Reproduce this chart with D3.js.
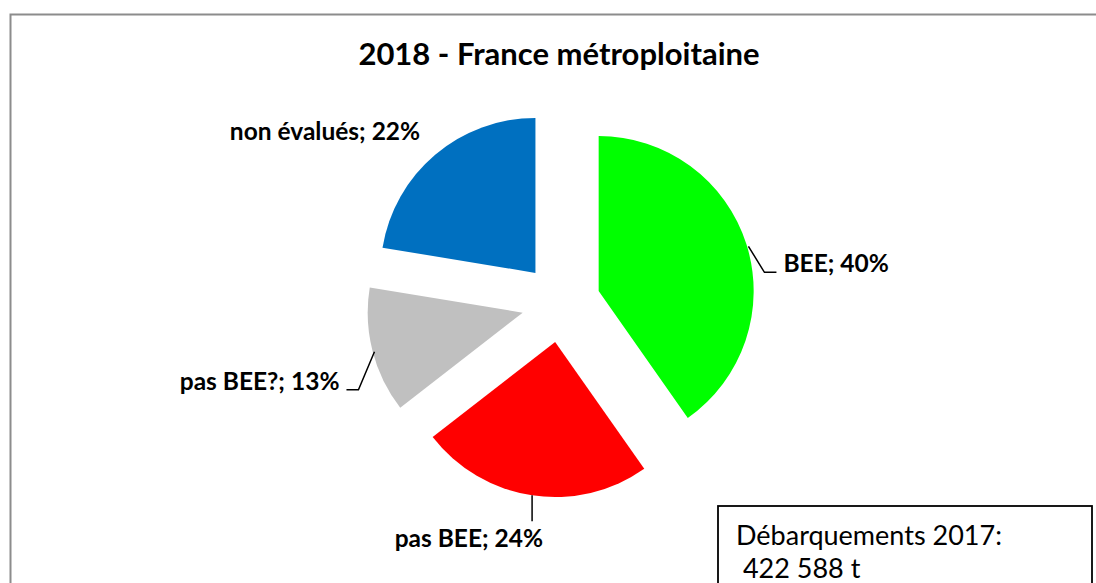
<!DOCTYPE html>
<html>
<head>
<meta charset="utf-8">
<script src="https://cdn.jsdelivr.net/npm/d3@7"></script>
<style>
  body { margin: 0; background: #fff; }
  text { font-family: Lato, "Open Sans", sans-serif; }
</style>
</head>
<body>
<svg id="drawing_region"></svg>
<script>
const title = "2018 - France métroploitaine";
const categories = ["BEE", "pas BEE", "pas BEE?", "non évalués"];
const shares = [40.25, 24.25, 13.1, 22.4];
const colors = ["#00ff00", "#ff0000", "#c0c0c0", "#0070c0"];
const noteLines = ["Débarquements 2017:", " 422 588 t"];

// label placement relative to the point on the outer arc (leader points, then text anchor)
const labelLayout = [
    { leader: [[2, 2], [18, 28], [30, 28]], text: [37, 28], anchor: "start" },
    { leader: [[0, 0], [0, 26]], text: [11, 52], anchor: "end" },
    { leader: [[2, 1], [-14, 39], [-26, 39]], text: [-33, 39], anchor: "end" },
    { leader: [], text: [-15, -15], anchor: "end" }
];

class PieChart {

    constructor( config, data ) {
        this.config = {
            parent: config.parent,
            width: config.width || 256,
            height: config.height || 256,
            cx: config.cx,
            cy: config.cy,
            radius: config.radius || 100,
            explode: config.explode || 0
        }
        this.data = data;
        this.init();
    }

    init() {
        let self = this;

        self.svg = d3.select( self.config.parent )
            .attr('width', self.config.width)
            .attr('height', self.config.height);

        // chart area border
        self.svg.append('rect')
            .attr('x', 10.5)
            .attr('y', 14.5)
            .attr('width', 1100)
            .attr('height', 600)
            .attr('fill', '#fff')
            .attr('stroke', '#8c8c8c')
            .attr('stroke-width', 2);

        self.chart = self.svg.append('g')
            .attr('transform', `translate(${self.config.cx}, ${self.config.cy})`);

        self.pie = d3.pie()
            .sort(null)
            .value( d => d.value );

        self.arc = d3.arc()
            .innerRadius(0)
            .outerRadius(self.config.radius);

        self.edge = d3.arc()
            .innerRadius(self.config.radius)
            .outerRadius(self.config.radius);
    }

    offset( d ) {
        const mid = (d.startAngle + d.endAngle) / 2;
        return [ Math.sin(mid) * this.config.explode, -Math.cos(mid) * this.config.explode ];
    }

    render() {
        let self = this;

        const arcs = self.pie( self.data );

        self.svg.append('text')
            .attr('x', self.config.cx - 2)
            .attr('y', 65)
            .attr('text-anchor', 'middle')
            .attr('font-size', 31)
            .attr('font-weight', 'bold')
            .text( title );

        const slices = self.chart.selectAll('g.slice')
            .data( arcs )
            .enter()
            .append('g')
            .attr('class', 'slice')
            .attr('transform', d => `translate(${self.offset(d)})`);

        slices.append('path')
            .attr('d', self.arc)
            .attr('fill', (d, i) => colors[i]);

        slices.each( function(d, i) {
            const g = d3.select(this);
            const p = self.edge.centroid(d);
            const lay = labelLayout[i];

            if ( lay.leader.length > 1 ) {
                g.append('path')
                    .attr('d', d3.line()( lay.leader.map( o => [p[0] + o[0], p[1] + o[1]] ) ))
                    .attr('fill', 'none')
                    .attr('stroke', '#000')
                    .attr('stroke-width', 1.5);
            }

            g.append('text')
                .attr('x', p[0] + lay.text[0])
                .attr('y', p[1] + lay.text[1])
                .attr('text-anchor', lay.anchor)
                .attr('font-size', 24.5)
                .attr('font-weight', 'bold')
                .text( `${d.data.name}; ${Math.round(d.data.value)}%` );
        });

        // note box
        self.svg.append('rect')
            .attr('x', 718)
            .attr('y', 506)
            .attr('width', 374)
            .attr('height', 120)
            .attr('fill', '#fff')
            .attr('stroke', '#000')
            .attr('stroke-width', 1.8);

        self.svg.append('text')
            .attr('x', 736)
            .attr('y', 545)
            .attr('font-size', 27)
            .selectAll('tspan')
            .data( noteLines )
            .enter()
            .append('tspan')
            .attr('x', 736)
            .attr('dy', (d, i) => i == 0 ? 0 : 33)
            .attr('xml:space', 'preserve')
            .style('white-space', 'pre')
            .text( d => d );
    }
}

const data = categories.map( (c, i) => ({ name: c, value: shares[i] }) );

const pie_chart = new PieChart({
    parent: '#drawing_region',
    width: 1096,
    height: 583,
    cx: 561,
    cy: 303,
    radius: 155,
    explode: 39.5
}, data );
pie_chart.render();
</script>
</body>
</html>
